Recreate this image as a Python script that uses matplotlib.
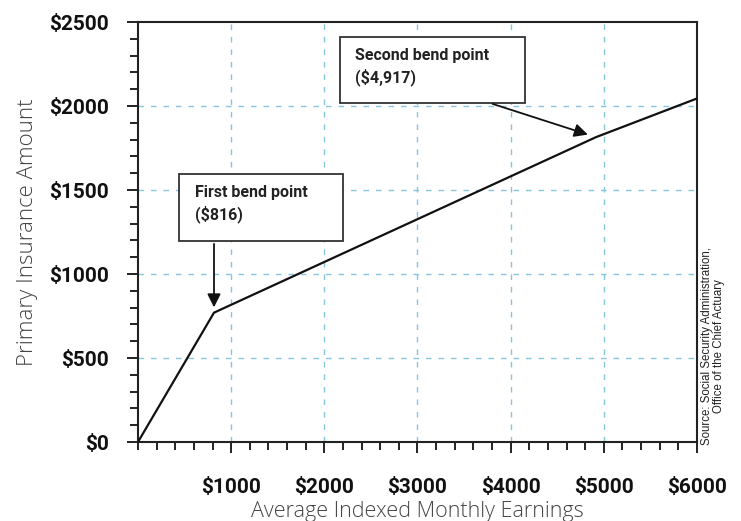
import matplotlib.pyplot as plt
from matplotlib.patches import Rectangle
from matplotlib.ticker import MultipleLocator, FuncFormatter

# benefit formula: earnings (AIME) vs. primary insurance amount
aime = [0, 816, 4917, 6000]
pia = [0, 770, 1815, 2045]

x_ticks = [1000, 2000, 3000, 4000, 5000, 6000]
y_ticks = [0, 500, 1000, 1500, 2000, 2500]

bold_font = ['Roboto', 'DejaVu Sans']
light_font = ['Open Sans', 'DejaVu Sans']
ink = '#222222'
grid_blue = '#86c6dc'

fig = plt.figure(figsize=(7.41, 5.21), dpi=100)
ax = fig.add_axes([0.1862, 0.1516, 0.7544, 0.8061])

ax.plot(aime, pia, color='#111111', lw=1.6, zorder=3)

ax.set_xlim(0, 6000)
ax.set_ylim(0, 2500)
ax.set_xticks(x_ticks)
ax.set_yticks(y_ticks)
ax.xaxis.set_minor_locator(MultipleLocator(200))
ax.yaxis.set_minor_locator(MultipleLocator(100))
money = FuncFormatter(lambda v, p: '${:d}'.format(int(v)))
ax.xaxis.set_major_formatter(money)
ax.yaxis.set_major_formatter(money)

ax.tick_params(axis='both', which='major', length=8, width=1.4, color=ink,
               labelsize=15, labelcolor='#111111')
ax.tick_params(axis='both', which='minor', length=6, width=1.4, color=ink)
ax.tick_params(axis='x', which='major', pad=18)
ax.tick_params(axis='y', which='major', pad=13)
for lab in ax.get_xticklabels() + ax.get_yticklabels():
    lab.set_fontfamily(bold_font)
    lab.set_fontweight('bold')

for side in ['left', 'right', 'top', 'bottom']:
    ax.spines[side].set_color(ink)
    ax.spines[side].set_linewidth(1.5)

# dashed grid, skipping the frame edges
for x in x_ticks[:-1]:
    ax.axvline(x, color=grid_blue, lw=1, ls=(0, (4, 5)), zorder=1)
for y in y_ticks[1:-1]:
    ax.axhline(y, color=grid_blue, lw=1, ls=(0, (4, 5)), zorder=1)

ax.set_xlabel('Average Indexed Monthly Earnings', fontsize=15.5, color='#444444',
              family=light_font, fontweight='light')
ax.xaxis.set_label_coords(0.5, -0.14)
ax.set_ylabel('Primary Insurance Amount', fontsize=16, color='#444444',
              family=light_font, fontweight='light', labelpad=8)

# callout boxes
ax.add_patch(Rectangle((440, 1196), 1760, 400, facecolor='white',
                       edgecolor='#333333', lw=1.3, zorder=4))
ax.text(612, 1530, 'First bend point\n($816)', fontsize=11.5, family=bold_font,
        fontweight='bold', color='#222222', va='top', ha='left',
        linespacing=1.35, zorder=5)
ax.annotate('', xy=(aime[1], pia[1] + 15), xytext=(aime[1], 1196),
            arrowprops=dict(arrowstyle='-|>', color='#111111', lw=1.3,
                            mutation_scale=20), zorder=5)

ax.add_patch(Rectangle((2167, 2018), 1985, 393, facecolor='white',
                       edgecolor='#333333', lw=1.3, zorder=4))
ax.text(2328, 2345, 'Second bend point\n($4,917)', fontsize=11.5,
        family=bold_font, fontweight='bold', color='#222222', va='top',
        ha='left', linespacing=1.35, zorder=5)
ax.annotate('', xy=(aime[2] - 60, pia[2] + 10), xytext=(3777, 2018),
            arrowprops=dict(arrowstyle='-|>', color='#111111', lw=1.3,
                            mutation_scale=20), zorder=5)

fig.text(713 / 741, (521 - 445) / 521,
         'Source: Social Security Administration,\nOffice of the Chief Actuary',
         rotation=90, ha='center', va='bottom', fontsize=8.3,
         family=['Liberation Sans', 'DejaVu Sans'], color='#222222',
         linespacing=1.1)

fig.savefig('out.png', dpi=100)
